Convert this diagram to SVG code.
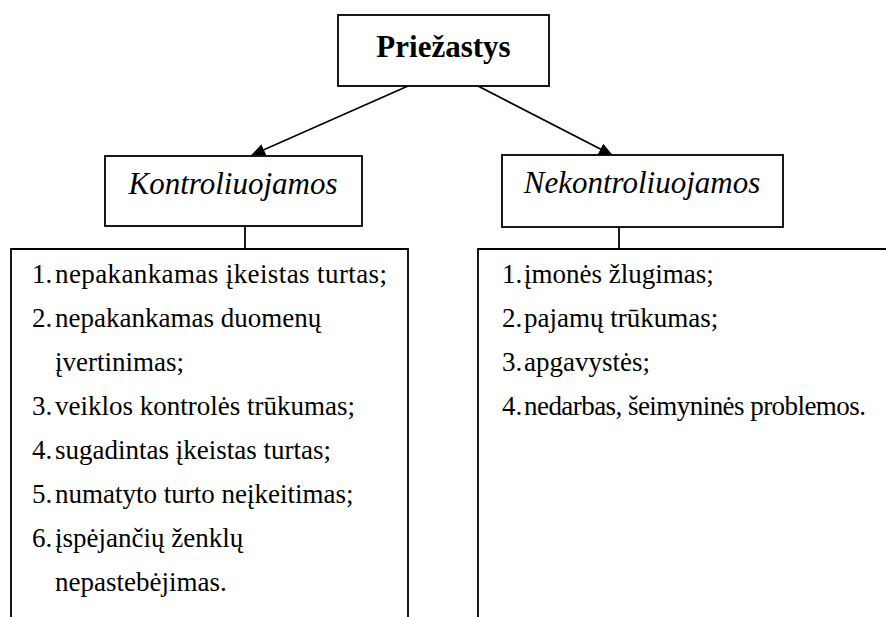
<svg xmlns="http://www.w3.org/2000/svg" width="886" height="617" viewBox="0 0 886 617">
<style>
.box{fill:#fff;stroke:#000;stroke-width:1.8}
.ln{stroke:#000;stroke-width:1.8;fill:none}
.t{font-family:"Liberation Serif","Times New Roman",serif;fill:#000}
.h{font-size:31px;font-weight:bold}
.c{font-size:31px;font-style:italic}
.li{font-size:27px}
</style>
<defs>
<marker id="ah" markerWidth="14" markerHeight="12" refX="13" refY="6" orient="auto" markerUnits="userSpaceOnUse">
<path d="M0,0 L14,6 L0,12 Z" fill="#000"/>
</marker>
</defs>
<g id="connectors">
<line class="ln" x1="408" y1="86" x2="252" y2="155" marker-end="url(#ah)"/>
<line class="ln" x1="478" y1="86" x2="612" y2="155" marker-end="url(#ah)"/>
<line class="ln" x1="245" y1="226" x2="245" y2="249"/>
<line class="ln" x1="619" y1="227" x2="619" y2="249"/>
</g>
<g id="node-priezastys">
<rect class="box" x="338" y="15" width="211" height="71"/>
<text class="t h" x="443.5" y="57" text-anchor="middle">Priežastys</text>
</g>
<g id="node-kontroliuojamos">
<rect class="box" x="105" y="156" width="257" height="70"/>
<text class="t c" x="233" y="194" text-anchor="middle">Kontroliuojamos</text>
</g>
<g id="node-nekontroliuojamos">
<rect class="box" x="502" y="155" width="281" height="72"/>
<text class="t c" x="642" y="193" text-anchor="middle">Nekontroliuojamos</text>
</g>
<g id="node-kontroliuojamos-list">
<path class="ln" d="M11,620 V249 H408 V620"/>
<g class="t li">
<text x="32" y="283">1.</text><text x="55" y="283" textLength="332" lengthAdjust="spacing">nepakankamas įkeistas turtas;</text>
<text x="32" y="327">2.</text><text x="55" y="327">nepakankamas duomenų</text>
<text x="55" y="371">įvertinimas;</text>
<text x="32" y="415">3.</text><text x="55" y="415">veiklos kontrolės trūkumas;</text>
<text x="32" y="459">4.</text><text x="55" y="459">sugadintas įkeistas turtas;</text>
<text x="32" y="503">5.</text><text x="55" y="503">numatyto turto neįkeitimas;</text>
<text x="32" y="547">6.</text><text x="55" y="547">įspėjančių ženklų</text>
<text x="55" y="591">nepastebėjimas.</text>
</g>
</g>
<g id="node-nekontroliuojamos-list">
<path class="ln" d="M478,620 V249 H890"/>
<g class="t li">
<text x="502" y="283">1.</text><text x="524" y="283">įmonės žlugimas;</text>
<text x="502" y="327">2.</text><text x="524" y="327">pajamų trūkumas;</text>
<text x="502" y="371">3.</text><text x="524" y="371">apgavystės;</text>
<text x="502" y="415">4.</text><text x="524" y="415" textLength="342" lengthAdjust="spacing">nedarbas, šeimyninės problemos.</text>
</g>
</g>
</svg>
